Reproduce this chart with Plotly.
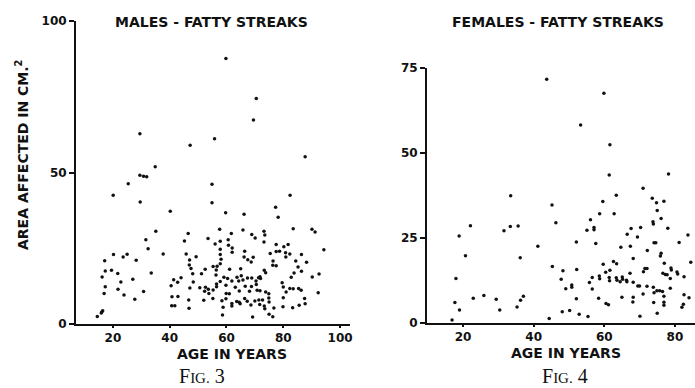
import plotly.graph_objects as go

# ---- data ----
males_age = [20.1, 29.6, 40.2, 54.9, 35.1, 46.5, 31.6, 45.2, 53.5, 32.4, 56.0, 20.2, 25.0, 23.6, 37.7, 45.8,
             17.1, 28.2, 47.0, 49.3, 46.9, 55.3, 17.3, 19.5, 21.7, 33.5, 47.5, 52.5, 51.2, 16.2, 27.0, 22.8,
             44.0, 48.1, 41.4, 42.8, 48.3, 17.3, 21.8, 40.5, 47.1, 50.6, 52.6, 53.6, 16.9, 23.9, 30.8, 52.3,
             53.8, 27.7, 40.8, 42.9, 46.7, 52.0, 55.2, 40.7, 41.8, 46.8, 16.4, 16.1, 15.9, 14.5,
             82.4, 77.3, 59.7, 66.2, 78.2, 57.6, 65.8, 73.2, 73.5, 61.7, 68.9, 70.1, 83.5, 90.1, 91.2, 60.6,
             57.8, 73.2, 60.7, 62.0, 77.5, 81.7, 80.2, 57.8, 62.0, 66.4, 77.5, 78.7, 75.4, 80.8, 82.3, 86.4,
             94.3, 57.8, 66.2, 69.4, 80.9, 58.1, 67.5, 68.7, 76.4, 84.4, 57.8, 88.2, 56.7, 76.3, 77.5, 85.2,
             56.4, 61.1, 65.0, 73.3, 86.4, 56.3, 59.1, 60.4, 63.7, 65.2, 67.4, 68.9, 71.3, 71.8, 72.0, 73.8,
             83.8, 82.8, 90.2, 92.6, 57.8, 61.9, 64.3, 65.8, 70.4, 79.6, 56.5, 56.5, 59.8, 63.1, 66.6, 68.8,
             70.5, 80.0, 82.3, 83.5, 85.4, 86.3, 55.3, 59.9, 61.0, 64.5, 68.1, 70.8, 71.8, 73.8, 74.9, 81.0,
             92.3, 58.4, 59.8, 61.9, 63.6, 64.5, 64.8, 66.4, 67.3, 70.0, 71.4, 72.7, 74.9, 75.0, 80.0, 87.5,
             87.7, 58.8, 61.9, 68.6, 71.7, 73.3, 73.5, 76.7, 79.9, 83.3, 85.6, 58.6, 69.2, 75.0, 76.3,
             59.8, 70.5, 69.5, 29.5, 55.8, 47.2, 87.7, 34.9, 29.5, 30.8, 31.9, 25.4, 54.9]
males_area = [42.5, 40.3, 37.2, 40.0, 30.6, 29.9, 27.8, 27.4, 28.2, 24.8, 26.4, 22.9, 23.0, 22.1, 23.1, 23.1,
              20.9, 21.0, 21.1, 22.2, 19.5, 19.0, 17.5, 17.7, 16.7, 16.8, 18.3, 18.1, 16.6, 15.5, 14.8, 13.9,
              15.3, 16.6, 14.6, 13.8, 13.9, 12.3, 11.5, 12.6, 11.9, 12.0, 12.1, 11.5, 10.1, 9.6, 10.7, 10.8,
              10.1, 8.2, 9.0, 9.1, 7.9, 7.8, 8.4, 6.0, 6.0, 5.2, 4.4, 4.0, 3.6, 2.5,
              42.5, 38.5, 36.7, 36.2, 35.2, 31.3, 31.0, 30.6, 29.4, 29.9, 29.5, 28.4, 31.4, 31.3, 30.4, 27.8,
              27.3, 27.1, 26.0, 25.1, 26.2, 26.2, 25.5, 24.7, 23.7, 24.0, 23.9, 24.0, 23.3, 23.5, 23.1, 22.9,
              24.5, 22.9, 22.1, 22.0, 22.1, 21.4, 21.2, 20.5, 20.8, 20.8, 19.9, 20.4, 19.1, 19.4, 19.2, 18.8,
              17.8, 18.1, 18.2, 17.7, 17.4, 16.2, 15.4, 15.0, 15.4, 15.9, 15.2, 15.2, 15.3, 15.6, 15.0, 16.9,
              16.8, 15.4, 15.5, 16.5, 14.0, 14.2, 14.2, 14.5, 14.2, 13.6, 13.2, 12.3, 12.8, 12.1, 12.5, 12.4,
              13.0, 12.2, 11.7, 11.6, 11.7, 11.1, 11.2, 10.1, 10.0, 10.9, 10.8, 11.1, 11.0, 10.6, 10.0, 10.6,
              10.3, 7.7, 8.3, 6.8, 7.4, 7.2, 6.7, 8.4, 7.5, 7.6, 7.9, 7.9, 8.6, 7.3, 8.7, 8.4,
              6.7, 5.5, 5.9, 6.3, 6.4, 5.9, 5.0, 5.3, 5.7, 5.4, 6.2, 3.0, 2.3, 3.2, 2.4,
              87.6, 74.4, 67.3, 62.8, 61.1, 59.0, 55.2, 51.9, 49.1, 48.8, 48.6, 46.3, 46.1]

females_age = [33.5, 45.2, 46.3, 22.1, 33.4, 35.6, 31.6, 18.9, 41.2, 20.7, 36.2, 45.3, 18.0, 47.8, 17.7, 22.9,
               25.9, 29.4, 37.1, 36.3, 35.3, 30.4, 19.0, 16.9, 44.4,
               61.4, 78.2, 71.0, 63.4, 73.6, 74.8, 76.9, 59.6, 75.0, 58.7, 62.8, 56.1, 76.1, 73.8, 73.9, 55.1,
               57.1, 57.1, 67.6, 70.3, 78.0, 83.7, 66.5, 69.4, 52.1, 57.6, 74.1, 74.6, 81.2, 64.7, 67.4, 72.2,
               76.1, 75.9, 68.2, 63.5, 59.7, 62.6, 77.0, 84.5, 48.3, 52.2, 61.6, 60.4, 67.3, 71.5, 72.1, 71.1,
               78.9, 79.0, 80.6, 80.8, 76.6, 77.3, 77.8, 78.7, 82.6, 56.6, 58.6, 58.7, 61.4, 61.5, 63.4, 63.6,
               65.1, 65.2, 66.3, 66.4, 64.5, 55.8, 68.2, 69.5, 70.0, 72.1, 73.9, 50.8, 50.8, 49.1, 56.6, 74.9,
               75.7, 76.5, 74.1, 78.7, 71.0, 76.9, 82.6, 84.0, 52.1, 58.4, 65.0, 68.2, 68.1, 74.0, 76.9, 76.9,
               82.4, 82.0, 60.5, 61.2, 48.1, 50.2, 52.9, 55.4, 70.1, 75.0,
               43.7, 59.9, 53.3, 61.6]
females_area = [37.4, 34.7, 29.5, 28.6, 28.4, 28.5, 27.1, 25.6, 22.6, 19.8, 19.2, 16.6, 13.1, 12.9, 6.0, 7.3,
                8.1, 7.0, 7.9, 6.7, 4.7, 3.8, 3.8, 0.9, 1.3,
                43.5, 43.8, 39.6, 37.6, 36.7, 35.4, 35.8, 35.7, 33.1, 32.1, 32.1, 30.4, 30.7, 29.8, 29.1, 27.3,
                28.1, 27.4, 27.8, 28.1, 27.9, 25.9, 26.1, 25.3, 23.8, 23.4, 23.6, 23.6, 23.7, 22.3, 22.6, 21.3,
                20.5, 19.7, 19.0, 17.4, 17.3, 18.1, 17.6, 17.9, 15.4, 15.7, 15.5, 14.9, 14.6, 16.0, 16.0, 15.1,
                16.2, 15.6, 15.0, 14.4, 14.6, 14.3, 14.2, 13.1, 13.6, 13.4, 13.8, 13.0, 13.4, 12.4, 13.3, 12.6,
                13.5, 12.9, 12.6, 12.1, 12.1, 11.9, 12.0, 10.9, 10.9, 10.8, 10.5, 11.2, 10.5, 10.1, 10.0, 9.5,
                9.5, 9.3, 8.9, 10.2, 8.5, 7.9, 8.3, 7.4, 7.1, 7.3, 7.6, 7.6, 6.2, 6.0, 6.1, 5.2,
                5.5, 4.6, 5.7, 5.4, 3.3, 3.7, 2.6, 1.9, 2.0, 2.9,
                71.7, 67.6, 58.2, 52.4]

male_xticks = [20, 40, 60, 80, 100]
male_yticks = [0, 50, 100]
female_xticks = [20, 40, 60, 80]
female_yticks = [0, 25, 50, 75]

W, H = 695, 388
FONT = "DejaVu Sans"
INK = "#111111"

def px(x):
    return x / W

def py(y):
    return 1 - y / H

fig = go.Figure()
fig.add_trace(go.Scatter(x=males_age, y=males_area, mode="markers",
                         marker=dict(size=3.5, color=INK), cliponaxis=False,
                         xaxis="x", yaxis="y", showlegend=False, hoverinfo="skip"))
fig.add_trace(go.Scatter(x=females_age, y=females_area, mode="markers",
                         marker=dict(size=3.5, color=INK), cliponaxis=False,
                         xaxis="x2", yaxis="y2", showlegend=False, hoverinfo="skip"))

axis_common = dict(showgrid=False, zeroline=False, showline=True, linecolor=INK, linewidth=2,
                   automargin=False, ticks="outside", tickcolor=INK, tickwidth=1.5,
                   tickfont=dict(family=FONT, size=12, color=INK, weight="bold"))

fig.update_layout(
    width=W, height=H, margin=dict(l=0, r=0, t=0, b=0, autoexpand=False),
    paper_bgcolor="white", plot_bgcolor="white",
    xaxis=dict(domain=[px(76), px(350)], range=[7, 103.5], tickvals=male_xticks,
               ticklen=2, anchor="y", **axis_common),
    yaxis=dict(domain=[py(324), py(21)], range=[0, 100], tickvals=male_yticks,
               ticklen=5, anchor="x", **axis_common),
    xaxis2=dict(domain=[px(427), 1.0], range=[9.8, 85.7], tickvals=female_xticks,
                ticklen=2, anchor="y2", **axis_common),
    yaxis2=dict(domain=[py(323), py(68)], range=[0, 75], tickvals=female_yticks,
                ticklen=5, anchor="x2", **axis_common),
)

tfont = dict(family=FONT, size=14, color=INK, weight="bold")
ann = [
    dict(text="MALES - FATTY STREAKS", x=px(211), y=py(22)),
    dict(text="FEMALES - FATTY STREAKS", x=px(558), y=py(22)),
    dict(text="AGE IN YEARS", x=px(232), y=py(354)),
    dict(text="AGE IN YEARS", x=px(566), y=py(353)),
]
for a in ann:
    fig.add_annotation(xref="paper", yref="paper", xanchor="center", yanchor="middle",
                       showarrow=False, font=tfont, **a)
fig.add_annotation(text="AREA AFFECTED IN CM.<sup>2</sup>", x=px(22), y=py(155), xref="paper", yref="paper",
                   textangle=-90, showarrow=False, font=tfont, xanchor="center", yanchor="middle")
sfont = dict(family="Liberation Serif", size=20, color=INK)
fig.add_annotation(text="F<span style='font-size:15px'>IG.</span> 3", x=px(202), y=py(376),
                   xref="paper", yref="paper", showarrow=False, font=sfont,
                   xanchor="center", yanchor="middle")
fig.add_annotation(text="F<span style='font-size:15px'>IG.</span> 4", x=px(565), y=py(376),
                   xref="paper", yref="paper", showarrow=False, font=sfont,
                   xanchor="center", yanchor="middle")

fig.write_html("out.html", config={"displayModeBar": False},
               post_script="document.body.style.margin='0';document.body.style.overflow='hidden';")
